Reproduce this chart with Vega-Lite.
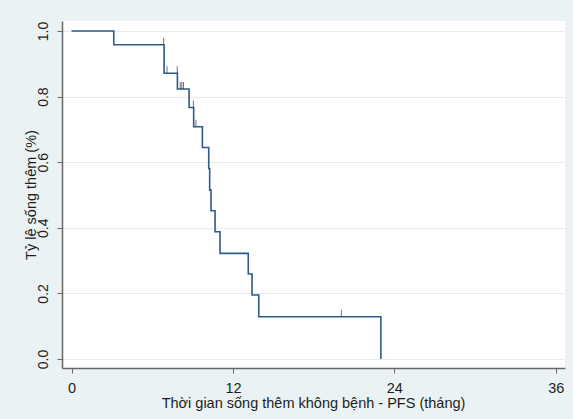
{
  "$schema": "https://vega.github.io/schema/vega-lite/v6.json",
  "width": 503,
  "height": 347,
  "autosize": {"type": "none"},
  "padding": {"left": 62, "top": 21, "right": 8, "bottom": 51},
  "background": "#eaf2f3",
  "config": {
    "view": {"fill": "white", "stroke": null},
    "font": "Liberation Sans"
  },
  "encoding": {
    "x": {
      "field": "t",
      "type": "quantitative",
      "scale": {"domain": [-0.71, 36.69], "nice": false, "zero": false},
      "axis": {
        "values": [0, 12, 24, 36],
        "grid": false,
        "domainColor": "#666666",
        "domainWidth": 1.5,
        "tickColor": "#666666",
        "tickSize": 5,
        "tickWidth": 1,
        "labelFont": "Liberation Sans",
        "labelFontSize": 14.5,
        "labelColor": "#1e1e1e",
        "labelBaseline": "alphabetic",
        "labelPadding": 19,
        "labelFlush": false,
        "title": "Thời gian sống thêm không bệnh - PFS (tháng)",
        "titleFont": "Liberation Sans",
        "titleFontSize": 14.5,
        "titleFontWeight": "normal",
        "titleColor": "#1e1e1e",
        "titleBaseline": "alphabetic",
        "titleX": 251,
        "titleY": 39,
        "titleAlign": "center"
      }
    },
    "y": {
      "field": "S",
      "type": "quantitative",
      "scale": {"domain": [-0.0274, 1.0305], "nice": false, "zero": false},
      "axis": {
        "values": [0, 0.2, 0.4, 0.6, 0.8, 1.0],
        "format": ".1f",
        "grid": true,
        "gridColor": "#e3ecef",
        "gridWidth": 1,
        "domainColor": "#666666",
        "domainWidth": 1.5,
        "tickColor": "#666666",
        "tickSize": 5,
        "tickWidth": 1,
        "labelFont": "Liberation Sans",
        "labelFontSize": 14,
        "labelColor": "#1e1e1e",
        "labelAngle": 270,
        "labelAlign": "center",
        "labelBaseline": "alphabetic",
        "labelPadding": 10,
        "labelFlush": false,
        "title": "Tỷ lệ sống thêm (%)",
        "titleFont": "Liberation Sans",
        "titleFontSize": 14.5,
        "titleFontWeight": "normal",
        "titleColor": "#1e1e1e",
        "titleAngle": 270,
        "titleBaseline": "alphabetic",
        "titleAlign": "center",
        "titleX": -27,
        "titleY": 173.5
      }
    }
  },
  "layer": [
    {
      "data": {
        "values": [
          {"t": 0, "S": 1.0},
          {"t": 3.14, "S": 0.958},
          {"t": 6.88, "S": 0.871},
          {"t": 7.87, "S": 0.823},
          {"t": 8.74, "S": 0.767},
          {"t": 9.08, "S": 0.708},
          {"t": 9.73, "S": 0.645},
          {"t": 10.2, "S": 0.581},
          {"t": 10.27, "S": 0.515},
          {"t": 10.37, "S": 0.452},
          {"t": 10.67, "S": 0.388},
          {"t": 11.04, "S": 0.322},
          {"t": 13.14, "S": 0.259},
          {"t": 13.42, "S": 0.195},
          {"t": 13.92, "S": 0.129},
          {"t": 23.0, "S": 0.0}
        ]
      },
      "mark": {
        "type": "line",
        "interpolate": "step-after",
        "color": "#2f5a8a",
        "strokeWidth": 1.6
      }
    },
    {
      "data": {
        "values": [
          {"t": 6.85, "S": 0.958},
          {"t": 7.1, "S": 0.871},
          {"t": 7.86, "S": 0.871},
          {"t": 8.08, "S": 0.823},
          {"t": 8.2, "S": 0.823},
          {"t": 8.32, "S": 0.823},
          {"t": 9.06, "S": 0.767},
          {"t": 9.25, "S": 0.708},
          {"t": 20.06, "S": 0.129}
        ]
      },
      "mark": {
        "type": "tick",
        "orient": "vertical",
        "size": 7,
        "thickness": 1,
        "yOffset": -3.5,
        "color": "#333333"
      }
    }
  ]
}
